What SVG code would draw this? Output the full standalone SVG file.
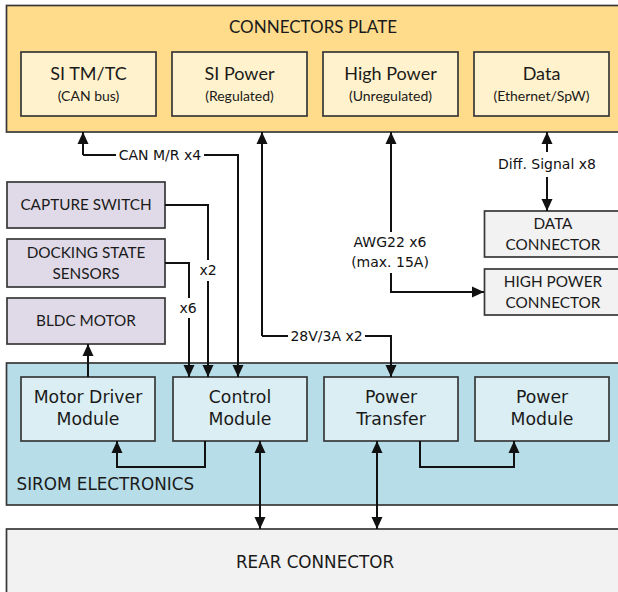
<svg xmlns="http://www.w3.org/2000/svg" width="618" height="592" viewBox="0 0 618 592">
<style>
.box{stroke:#383838;stroke-width:1.7}
.plate{fill:#FEDC8C}
.cp{fill:#FFF2CC}
.pu{fill:#E0DAE8}
.gr{fill:#F2F2F2}
.bl{fill:#B7DEE8}
.lb{fill:#DAEEF3}
.t{font-family:Lato,"Liberation Sans",sans-serif;fill:#1a1a1a;text-anchor:middle}
.big{font-size:17px}
.hd{font-size:18px}
.sm{font-size:14px}
.md{font-size:15.3px}
.v{font-family:"DejaVu Sans","Liberation Sans",sans-serif;fill:#1a1a1a;text-anchor:middle}
.vb{font-size:17.3px}
.vs{font-size:16.8px}
.lab{font-family:"DejaVu Sans","Liberation Sans",sans-serif;font-size:14px;fill:#111;text-anchor:middle}
.w{fill:none;stroke:#111;stroke-width:2}
</style>
<defs>
<marker id="ah" markerUnits="userSpaceOnUse" markerWidth="12" markerHeight="12" refX="12" refY="6" orient="auto-start-reverse">
<path d="M0,0.5 L12,6 L0,11.5 z" fill="#111"/>
</marker>
</defs>

<g id="connectors-plate">
<rect class="box plate" x="6.5" y="5.5" width="620" height="126.5"/>
<text class="t big" x="313" y="33">CONNECTORS PLATE</text>
</g>
<g id="si-tmtc">
<rect class="box cp" x="21" y="52" width="135" height="64"/>
<text class="t hd" x="88.5" y="80">SI TM/TC</text>
<text class="t sm" x="88.5" y="101">(CAN bus)</text>
</g>
<g id="si-power">
<rect class="box cp" x="172" y="52" width="135" height="64"/>
<text class="t hd" x="239.5" y="80">SI Power</text>
<text class="t sm" x="239.5" y="101">(Regulated)</text>
</g>
<g id="high-power">
<rect class="box cp" x="323" y="52" width="135" height="64"/>
<text class="t hd" x="390.5" y="80">High Power</text>
<text class="t sm" x="390.5" y="101">(Unregulated)</text>
</g>
<g id="data">
<rect class="box cp" x="474" y="52" width="135" height="64"/>
<text class="t hd" x="541.5" y="80">Data</text>
<text class="t sm" x="541.5" y="101">(Ethernet/SpW)</text>
</g>

<g id="capture-switch">
<rect class="box pu" x="7" y="182" width="158" height="46"/>
<text class="t md" x="86" y="210">CAPTURE SWITCH</text>
</g>
<g id="docking-state-sensors">
<rect class="box pu" x="7" y="239" width="158" height="48"/>
<text class="t md" x="86" y="258">DOCKING STATE</text>
<text class="t md" x="86" y="279">SENSORS</text>
</g>
<g id="bldc-motor">
<rect class="box pu" x="7" y="298" width="158" height="46"/>
<text class="t md" x="86" y="326">BLDC MOTOR</text>
</g>

<g id="data-connector">
<rect class="box gr" x="484.5" y="211" width="140" height="46"/>
<text class="t md" x="553" y="229">DATA</text>
<text class="t md" x="553" y="250">CONNECTOR</text>
</g>
<g id="high-power-connector">
<rect class="box gr" x="484.5" y="269" width="140" height="46"/>
<text class="t md" x="553" y="287">HIGH POWER</text>
<text class="t md" x="553" y="308">CONNECTOR</text>
</g>

<g id="sirom-electronics">
<rect class="box bl" x="6.5" y="363" width="620" height="142"/>
<text class="v vs" x="16.5" y="490" style="text-anchor:start">SIROM ELECTRONICS</text>
</g>
<g id="motor-driver-module">
<rect class="box lb" x="21" y="377" width="134" height="64"/>
<text class="v vb" x="88" y="403">Motor Driver</text>
<text class="v vb" x="88" y="425">Module</text>
</g>
<g id="control-module">
<rect class="box lb" x="173" y="377" width="134" height="64"/>
<text class="v vb" x="240" y="403">Control</text>
<text class="v vb" x="240" y="425">Module</text>
</g>
<g id="power-transfer">
<rect class="box lb" x="324" y="377" width="134" height="64"/>
<text class="v vb" x="391" y="403">Power</text>
<text class="v vb" x="391" y="425">Transfer</text>
</g>
<g id="power-module">
<rect class="box lb" x="475" y="377" width="134" height="64"/>
<text class="v vb" x="542" y="403">Power</text>
<text class="v vb" x="542" y="425">Module</text>
</g>

<g id="rear-connector">
<rect class="box gr" x="6.5" y="529" width="620" height="70"/>
<text class="v vs" x="315" y="568">REAR CONNECTOR</text>
</g>

<g id="connections">
<path class="w" d="M83,155 V132" marker-end="url(#ah)"/>
<path class="w" d="M83,155 H116"/>
<path class="w" d="M204,155 H238 V377" marker-end="url(#ah)"/>
<text class="lab" x="160" y="160">CAN M/R x4</text>

<path class="w" d="M165,205 H208 V260"/>
<path class="w" d="M208,281 V377" marker-end="url(#ah)"/>
<text class="lab" x="208" y="275">x2</text>

<path class="w" d="M165,263 H189 V298"/>
<path class="w" d="M189,318 V377" marker-end="url(#ah)"/>
<text class="lab" x="188" y="313">x6</text>

<path class="w" d="M262,336 V132" marker-end="url(#ah)"/>
<path class="w" d="M262,336 H288"/>
<path class="w" d="M365,336 H391 V377" marker-end="url(#ah)"/>
<text class="lab" x="326.5" y="341">28V/3A x2</text>

<path class="w" d="M391,232 V132" marker-end="url(#ah)"/>
<path class="w" d="M391,273 V292 H484" marker-end="url(#ah)"/>
<text class="lab" x="390" y="247">AWG22 x6</text>
<text class="lab" x="390" y="267">(max. 15A)</text>

<path class="w" d="M547,152 V132" marker-end="url(#ah)"/>
<path class="w" d="M547,177 V211" marker-end="url(#ah)"/>
<text class="lab" x="547" y="169">Diff. Signal x8</text>

<path class="w" d="M88,377 V344" marker-end="url(#ah)"/>
<path class="w" d="M205,441 V467 H117 V441" marker-end="url(#ah)"/>
<path class="w" d="M260,441 V529" marker-start="url(#ah)" marker-end="url(#ah)"/>
<path class="w" d="M377,441 V529" marker-start="url(#ah)" marker-end="url(#ah)"/>
<path class="w" d="M420,441 V467 H514 V441" marker-end="url(#ah)"/>
</g>
</svg>
